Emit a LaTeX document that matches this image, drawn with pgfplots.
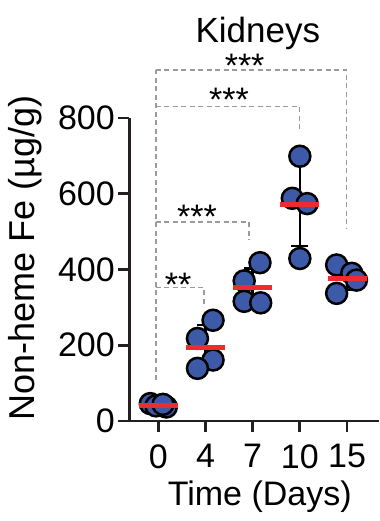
\documentclass[border=0pt]{standalone}
\usepackage{pgfplots}
\pgfplotsset{compat=1.18}
\usepackage{fontspec}
\setmainfont{Liberation Sans}
\definecolor{dotblue}{HTML}{3D5AA9}
\definecolor{meanred}{HTML}{EE2B2E}
\definecolor{brgray}{HTML}{9B9B9B}
\definecolor{axblack}{HTML}{231F20}
\begin{document}
\begin{tikzpicture}
\begin{axis}[
 x=47.18pt, y=0.37875pt,
 xmin=-0.615, xmax=4.68, ymin=0, ymax=800,
 axis x line=bottom, axis y line=left,
 axis line style={-, line width=2.7pt, axblack},
 major tick style={line width=2.7pt, axblack},
 tick align=outside, major tick length=11pt,
 xtick={0,1,2,3,4}, xticklabels={0,4,7,10,15},
 ytick={0,200,400,600,800},
 /pgf/number format/assume math mode=true,
 tick label style={font=\fontsize{34}{40}\selectfont, text=black},
 xticklabel style={yshift=-9pt},
 clip=false,
]
% significance brackets
\draw[brgray, line width=1.6pt, dash pattern=on 5pt off 3.5pt] (axis cs:-0.055,108) -- (axis cs:-0.055,927);
\draw[brgray, line width=1.6pt, dash pattern=on 5pt off 3.5pt] (axis cs:-0.055,927) -- (axis cs:3.99,927) -- (axis cs:3.99,509);
\draw[brgray, line width=1.6pt, dash pattern=on 5pt off 3.5pt] (axis cs:-0.055,830) -- (axis cs:2.99,830) -- (axis cs:2.99,764);
\draw[brgray, line width=1.6pt, dash pattern=on 5pt off 3.5pt] (axis cs:-0.055,526) -- (axis cs:1.92,526) -- (axis cs:1.92,480);
\draw[brgray, line width=1.6pt, dash pattern=on 5pt off 3.5pt] (axis cs:-0.055,352) -- (axis cs:0.97,352) -- (axis cs:0.97,302);
\node[anchor=base, font=\fontsize{34}{40}\selectfont] at (axis cs:0.42,328) {**};
\node[anchor=base, font=\fontsize{34}{40}\selectfont] at (axis cs:0.82,509) {***};
\node[anchor=base, font=\fontsize{34}{40}\selectfont] at (axis cs:1.5,817) {***};
\node[anchor=base, font=\fontsize{34}{40}\selectfont] at (axis cs:1.83,907) {***};
% data points
\addplot[only marks, mark=*, mark size=10.5pt, mark options={line width=2.5pt, draw=black, fill=dotblue}] coordinates {
 (-0.17,46) (-0.05,40) (0.17,37) (0.1,44)
 (1.16,266) (0.83,218) (1.16,161) (0.83,139)
 (2.155,418) (1.82,370) (1.82,316) (2.17,312)
 (3,699) (2.84,588) (3.155,574) (3,429)
 (3.78,412) (3.78,337) (4.1,390) (4.2,372)
};
% SD error bars
\addplot[only marks, mark=none, error bars/.cd, y dir=both, y explicit,
 error bar style={line width=2.5pt, draw=black},
 error mark options={rotate=90, mark size=8.5pt, line width=2.5pt, draw=black}] coordinates {
 (0,41.5) +- (0,4.4)
 (1,196) +- (0,57)
 (2,354) +- (0,48)
 (3,572.5) +- (0,111)
 (4,377.75) +- (0,32)
};
% means
\addplot[only marks, mark=-, mark size=19.5pt, mark options={line width=5pt, draw=meanred}] coordinates {
 (0,42) (1,193) (2,352) (3,572) (4,376)
};
\node[anchor=base, font=\fontsize{35}{42}\selectfont] at (axis cs:2.11,999) {Kidneys};
\node[anchor=base, font=\fontsize{34}{40}\selectfont] at (axis cs:2.15,-222) {Time (Days)};
\node[anchor=base, rotate=90, font=\fontsize{36}{42}\selectfont] at (axis cs:-2.63,430) {Non-heme Fe (µg/g)};
\coordinate (bbsw) at (axis cs:-3.3553,-264.03);
\coordinate (bbne) at (axis cs:4.699,1111.55);
\end{axis}
\pgfresetboundingbox
\useasboundingbox (bbsw) rectangle (bbne);
\end{tikzpicture}
\end{document}
